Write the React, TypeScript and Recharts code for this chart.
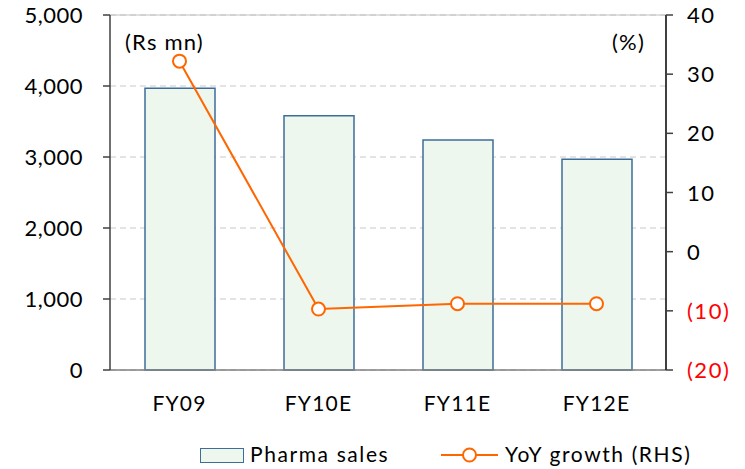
import { ComposedChart, Bar, Line, XAxis, YAxis, CartesianGrid, ReferenceLine, Legend } from 'recharts';

const years = ['FY09', 'FY10E', 'FY11E', 'FY12E'];
const pharmaSales = [3970, 3580, 3240, 2970];
const yoyGrowth = [32.2, -9.7, -8.8, -8.8];
const leftTicks = [0, 1000, 2000, 3000, 4000, 5000];
const rightTicks = [-20, -10, 0, 10, 20, 30, 40];

const data = years.map((year, i) => ({ year, sales: pharmaSales[i], growth: yoyGrowth[i] }));

const FONT = 'Lato, "Open Sans", sans-serif';
const ORANGE = '#ff6600';

function RightTick({ x, y, payload }: any) {
  const v = payload.value as number;
  const label = v < 0 ? `(${Math.abs(v)})` : String(v);
  return (
    <text x={x + 12} y={y} dy={8} fontSize={22} letterSpacing={1.5} fontFamily={FONT} fill={v < 0 ? '#ff0000' : '#000'}>
      {label}
    </text>
  );
}

function LegendContent() {
  return (
    <div style={{ position: 'relative', height: 44, fontFamily: FONT, fontSize: 21, letterSpacing: 1.6, color: '#000' }}>
      <div style={{ position: 'absolute', left: 200, top: 23, width: 42, height: 13, background: '#eef7ee', border: '1px solid #3d6e99' }} />
      <span style={{ position: 'absolute', left: 250, top: 16 }}>Pharma sales</span>
      <svg style={{ position: 'absolute', left: 440, top: 19 }} width={60} height={22}>
        <line x1={1} y1={11} x2={58} y2={11} stroke={ORANGE} strokeWidth={2} />
        <circle cx={29.5} cy={11} r={6.5} fill="#fff" stroke={ORANGE} strokeWidth={2} />
      </svg>
      <span style={{ position: 'absolute', left: 505, top: 16 }}>YoY growth (RHS)</span>
    </div>
  );
}

export default function App() {
  return (
    <div style={{ position: 'absolute', left: 0, top: 0, width: 745, height: 469, background: '#fff' }}>
      <ComposedChart width={745} height={469} data={data} margin={{ top: 15, right: 0, left: 0, bottom: 0 }}>
        <CartesianGrid vertical={false} stroke="#c8c8c8" strokeDasharray="6 4" yAxisId="left" />
        <ReferenceLine yAxisId="left" y={5000} stroke="#c0c0c0" strokeWidth={1} />
        <XAxis
          dataKey="year"
          height={55}
          tickLine={false}
          axisLine={{ stroke: '#808080', strokeWidth: 1.5 }}
          tick={{ fontSize: 21, fontFamily: FONT, fill: '#000', letterSpacing: 1.2 }}
          tickMargin={20}
        />
        <YAxis
          yAxisId="left"
          width={110}
          domain={[0, 5000]}
          ticks={leftTicks}
          interval={0}
          tickFormatter={(v: number) => v.toLocaleString('en-US')}
          axisLine={{ stroke: '#404040', strokeWidth: 1.5 }}
          tickLine={{ stroke: '#404040', strokeWidth: 1.5 }}
          tickSize={7}
          tick={{ fontSize: 22, fontFamily: FONT, fill: '#000', letterSpacing: 0.5 }}
          tickMargin={20}
        />
        <YAxis
          yAxisId="right"
          orientation="right"
          width={79}
          domain={[-20, 40]}
          ticks={rightTicks}
          interval={0}
          axisLine={{ stroke: '#000', strokeWidth: 1.5 }}
          tickLine={{ stroke: '#404040', strokeWidth: 1.5 }}
          tickSize={7}
          tick={<RightTick />}
        />
        <Bar
          yAxisId="left"
          dataKey="sales"
          name="Pharma sales"
          barSize={70}
          fill="#eef7ee"
          stroke="#3d6e99"
          strokeWidth={1.5}
          isAnimationActive={false}
        />
        <Line
          yAxisId="right"
          dataKey="growth"
          name="YoY growth (RHS)"
          type="linear"
          stroke={ORANGE}
          strokeWidth={2}
          dot={{ r: 6.5, fill: '#fff', stroke: ORANGE, strokeWidth: 2 }}
          isAnimationActive={false}
        />
        <Legend verticalAlign="bottom" height={44} content={<LegendContent />} />
      </ComposedChart>
      <div style={{ position: 'absolute', left: 125, top: 28, fontFamily: FONT, fontSize: 22, letterSpacing: 1.2 }}>(Rs mn)</div>
      <div style={{ position: 'absolute', left: 612, top: 28, fontFamily: FONT, fontSize: 22, letterSpacing: 1.2 }}>(%)</div>
    </div>
  );
}
